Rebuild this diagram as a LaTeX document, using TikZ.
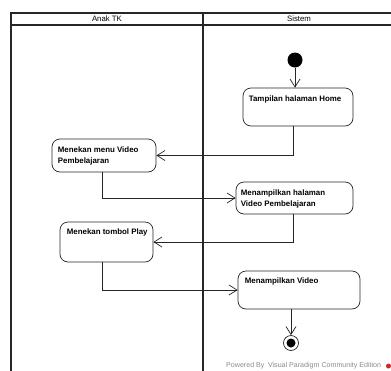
\documentclass[tikz,border=0pt]{standalone}
\usepackage{fontspec}
\setmainfont{Liberation Sans}
\usetikzlibrary{arrows.meta,calc}
\definecolor{wm}{RGB}{140,140,140}
\definecolor{vpred}{RGB}{205,40,40}
\begin{document}
\begin{tikzpicture}[x=1pt,y=-1pt,
  frame/.style={line width=1.4pt,draw=black!85},
  act/.style={draw=black!85,line width=0.7pt,rounded corners=8pt,fill=white,inner sep=0pt},
  txt/.style={inner sep=0pt,anchor=north west,align=left,font=\fontsize{7.9}{11.5}\selectfont\bfseries},
  head/.style={inner sep=0pt,font=\fontsize{7.8}{9}\selectfont},
  flow/.style={draw=black!85,line width=0.7pt,-{Straight Barb[length=8pt,width=10pt]}}]
\useasboundingbox (0,0) rectangle (391,370);
\clip (0,0) rectangle (391,370);
\fill[white] (0,0) rectangle (391,370);
% swimlane frame
\coordinate (tl) at (11,13);
\coordinate (hl) at (11,25);
\coordinate (tr) at (400,13);
\coordinate (hr) at (400,25);
\coordinate (bl) at (11,380);
\coordinate (mt) at (203,13);
\coordinate (mb) at (203,380);
\draw[frame] (tr) -- (tl) -- (bl);
\draw[frame] (hl) -- (hr);
\draw[frame] (mt) -- (mb);
\node[head] (laneA) at (107,19) {Anak TK};
\node[head] (laneB) at (299,19) {Sistem};
% nodes
\node[circle,fill=black,minimum size=15pt,inner sep=0pt] (start) at (295,60) {};
\node[act,minimum width=110pt,minimum height=38pt] (home) at (298,107) {};
\node[txt] (homet) at ([xshift=6pt,yshift=-8pt]home.north west) {Tampilan halaman Home};
\node[act,minimum width=104pt,minimum height=33pt] (menu) at (104,155.5) {};
\node[txt] (menut) at ([xshift=6pt,yshift=-7.5pt]menu.north west) {Menekan menu Video\\Pembelajaran};
\node[act,minimum width=117pt,minimum height=32pt] (hal) at (294.5,198) {};
\node[txt] (halt) at ([xshift=5pt,yshift=-7.5pt]hal.north west) {Menampilkan halaman\\Video Pembelajaran};
\node[act,minimum width=93pt,minimum height=40pt] (play) at (106.5,242) {};
\node[txt] (playt) at ([xshift=7pt,yshift=-7.3pt]play.north west) {Menekan tombol Play};
\node[act,minimum width=122pt,minimum height=38pt] (video) at (299,290) {};
\node[txt] (videot) at ([xshift=7pt,yshift=-7.3pt]video.north west) {Menampilkan Video};
\node[circle,draw=black!85,line width=0.7pt,minimum size=15pt,inner sep=0pt] (final) at (291,343) {};
\node[circle,fill=black,minimum size=9pt,inner sep=0pt] (finalin) at (final.center) {};
% flows
\draw[flow] (start) -- (start |- home.north);
\draw[flow] ([xshift=-5pt]home.south) |- (menu.east);
\draw[flow] ([xshift=-2pt]menu.south) |- (hal.west);
\draw[flow] ([xshift=-1.5pt]hal.south) |- (play.east);
\draw[flow] ([xshift=-4.5pt]play.south) |- (video.west);
\draw[flow] (final |- video.south) -- (final.north);
% watermark
\node[inner sep=0pt,anchor=west,text=wm,font=\fontsize{7.1}{8}\selectfont] (wmark) at (226,366) {Powered By\,\,\,Visual Paradigm Community Edition};
\fill[vpred] (388.5,366) circle (2.5pt);
\end{tikzpicture}
\end{document}
